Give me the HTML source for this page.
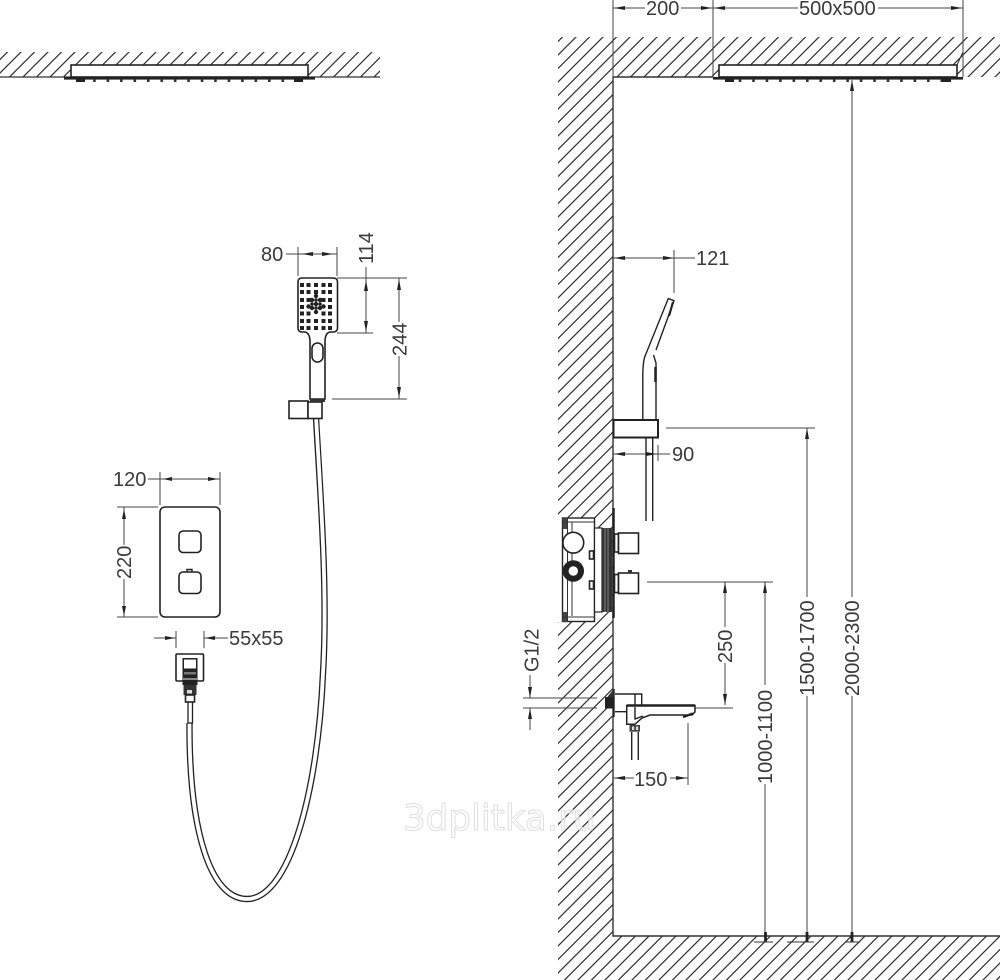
<!DOCTYPE html>
<html><head><meta charset="utf-8"><title>Shower system dimensions</title>
<style>
html,body{margin:0;padding:0;background:#fff}
svg{display:block}
text{font-family:"Liberation Sans",sans-serif;font-size:20px;fill:#3a3a3a}
.d{stroke:#444;stroke-width:1;fill:none}
.k{stroke:#222;stroke-width:1.6;fill:#fff}
.n{stroke:#222;stroke-width:1.4;fill:none}
</style></head><body>
<svg width="1000" height="980" viewBox="0 0 1000 980" xmlns="http://www.w3.org/2000/svg">
<defs>
<pattern id="h" patternUnits="userSpaceOnUse" width="13.5" height="13.5" patternTransform="translate(5.5,0)">
<path d="M-1 14.5L14.5 -1M-1 1L1 -1M12.5 14.5L14.5 12.5" stroke="#333" stroke-width="1.25" fill="none"/>
</pattern>
<pattern id="b" patternUnits="userSpaceOnUse" width="13.45" height="6" x="-3"><rect x="2" y="0" width="2.6" height="4" fill="#333"/></pattern>
</defs>

<!-- left ceiling -->
<rect x="0" y="52" width="380" height="25" fill="url(#h)"/>
<path d="M0 77H380" stroke="#333" stroke-width="1.2"/>
<rect x="71" y="65" width="237" height="12" class="k"/>
<rect x="64" y="77" width="251" height="2.6" fill="#222"/>
<rect x="77" y="79" width="226" height="4" fill="url(#b)"/>
<rect x="76" y="79" width="9" height="3" fill="#222"/><rect x="294" y="79" width="9" height="3" fill="#222"/>

<!-- right wall/ceiling/floor hatch -->
<rect x="558" y="37" width="442" height="40" fill="url(#h)"/>
<rect x="558" y="77" width="55" height="903" fill="url(#h)"/>
<rect x="613" y="936" width="387" height="44" fill="url(#h)"/>
<rect x="546" y="518" width="48" height="104" fill="#fff"/>
<rect x="594" y="528" width="18" height="84" fill="#fff"/>
<path d="M613 77V936H1000M613 77H713" stroke="#333" stroke-width="1.4" fill="none"/>
<rect x="719" y="65" width="238" height="12" class="k"/>
<path d="M957 65L963 52" stroke="#333"/>
<rect x="713" y="77" width="250" height="2.6" fill="#222"/>
<rect x="726" y="79" width="226" height="4" fill="url(#b)"/>
<rect x="725" y="79" width="9" height="3" fill="#222"/><rect x="942" y="79" width="9" height="3" fill="#222"/>

<!-- hand shower front -->
<path d="M302 278H333Q337.500 278 337.500 282V328Q337.500 332 333 332H330Q325 333 325 342V399H310V342Q310 333 305 332H302Q298 332 298 328V282Q298 278 302 278Z" class="k"/>
<rect x="312" y="343" width="11" height="19" rx="5.5" class="k"/>
<g fill="#222">
<rect x="300" y="283" width="4" height="4"/><rect x="306.500" y="283" width="4" height="4"/><rect x="314" y="283" width="4" height="4"/><rect x="321.500" y="283" width="4" height="4"/><rect x="328" y="283" width="4" height="4"/>
<rect x="300" y="290" width="4" height="4"/><rect x="306.500" y="290" width="4" height="4"/><rect x="314" y="290" width="4" height="4"/><rect x="321.500" y="290" width="4" height="4"/><rect x="328" y="290" width="4" height="4"/>
<rect x="300" y="298" width="4" height="4"/><rect x="306.500" y="298" width="4" height="4"/><rect x="321.500" y="298" width="4" height="4"/><rect x="328" y="298" width="4" height="4"/>
<rect x="300" y="305" width="4" height="4"/><rect x="328" y="305" width="4" height="4"/>
<rect x="300" y="311.500" width="4" height="4"/><rect x="306.500" y="311.500" width="4" height="4"/><rect x="321.500" y="311.500" width="4" height="4"/><rect x="328" y="311.500" width="4" height="4"/>
<rect x="300" y="319" width="4" height="4"/><rect x="306.500" y="319" width="4" height="4"/><rect x="314" y="319" width="4" height="4"/><rect x="321.500" y="319" width="4" height="4"/><rect x="328" y="319" width="4" height="4"/>
<rect x="300" y="326" width="4" height="4"/><rect x="306.500" y="326" width="4" height="4"/><rect x="314" y="326" width="4" height="4"/><rect x="321.500" y="326" width="4" height="4"/><rect x="328" y="326" width="4" height="4"/>
<circle cx="316" cy="296" r="2.200"/><circle cx="312" cy="300" r="2.200"/><circle cx="320" cy="300" r="2.200"/><circle cx="316" cy="304" r="2.200"/><circle cx="308.500" cy="306.500" r="2.200"/><circle cx="323.500" cy="306.500" r="2.200"/><circle cx="312" cy="308" r="2.200"/><circle cx="320" cy="308" r="2.200"/><circle cx="316" cy="312" r="2.200"/><circle cx="316" cy="300" r="1.800"/><circle cx="312" cy="304" r="1.800"/><circle cx="320" cy="304" r="1.800"/><circle cx="316" cy="308" r="1.800"/>
</g>
<!-- hose front -->
<path d="M316 418C320 490 328 590 323 673C318 790 290 899 247 899C210 899 189 830 189.500 723" fill="none" stroke="#222" stroke-width="6.400"/>
<path d="M316 416C320 490 328 590 323 673C318 790 290 899 247 899C210 899 189 830 189.500 723" fill="none" stroke="#fff" stroke-width="3.800"/>
<rect x="188" y="697" width="4.500" height="26" fill="#fff" stroke="#222" stroke-width="1.300"/>
<rect x="289" y="401" width="19" height="17.500" class="k"/>
<rect x="308" y="402" width="14" height="16.500" class="k"/>
<rect x="310" y="399" width="15" height="3" fill="#333"/>

<!-- thermostat front -->
<rect x="160" y="507" width="60" height="110" rx="5" class="k"/>
<rect x="179" y="531" width="22" height="21.500" rx="4" class="k"/>
<rect x="179" y="572" width="22" height="21.500" rx="4" class="k"/>
<path d="M187 572V569.500H192V572" class="n"/>

<!-- outlet front -->
<rect x="176" y="654" width="27.500" height="27" rx="1" class="k"/>
<rect x="182.500" y="658" width="15" height="27" fill="#222"/>
<rect x="184" y="659.500" width="12" height="9" fill="#fff"/>
<rect x="184" y="672" width="12" height="2.500" fill="#777"/>
<rect x="183" y="678" width="14" height="2" fill="#888"/>
<rect x="183.500" y="685" width="13" height="10" fill="#333"/>
<rect x="187" y="690" width="5" height="3.500" fill="#ddd"/>
<rect x="185.500" y="695" width="9" height="7" class="k"/>

<!-- left dimensions -->
<path class="d" d="M298 247V276M337 247V276M286 254H337"/>
<path d="M302 254L313 252V256ZM333 254L322 252V256Z" fill="#222"/>
<text x="261" y="261">80</text>
<path class="d" d="M337 278H375M337 333H373M366 267V333"/>
<path d="M366 280L364 291H368ZM366 332L364 321H368Z" fill="#222"/>
<text transform="translate(373,264) rotate(-90)">114</text>
<path class="d" d="M332 399H407M337 278H407M399 278V322M399 356V399"/>
<path d="M399 279L397 290H401ZM399 398L397 387H401Z" fill="#222"/>
<text transform="translate(406.500,356) rotate(-90)">244</text>
<path class="d" d="M160 472V505M220 472V505M148 479H220"/>
<path d="M163 479L172 477V481ZM218 479L208 477V481Z" fill="#222"/>
<text x="113" y="486">120</text>
<path class="d" d="M117 507H158M117 617H158M124 507V545M124 579V617"/>
<path d="M124 509L122 519H126ZM124 616L122 606H126Z" fill="#222"/>
<text transform="translate(131,579) rotate(-90)">220</text>
<path class="d" d="M176 631V648M204 631V648M154 638H176M204 638H228"/>
<path d="M175 638L165 636V640ZM205 638L215 636V640Z" fill="#222"/>
<text x="229" y="645">55x55</text>

<!-- right top dimensions -->
<path class="d" d="M613 0V77M713 0V77M963 0V77M613 8H645M681 8H713M713 8H798M878 8H963"/>
<path d="M614 8L625 6V10ZM712 8L701 6V10ZM714 8L725 6V10ZM962 8L951 6V10Z" fill="#222"/>
<text x="646" y="15">200</text>
<text x="799" y="15">500x500</text>

<!-- vertical dimensions -->
<path class="d" d="M852 80V597M852 696V936M807 428V597M807 696V936M765 582V685M765 784V936"/>
<path d="M852 80L850 91H854ZM807 428L805 439H809ZM765 582L763 593H767Z" fill="#222"/>
<path d="M852 932V942M807 932V942M765.500 932V942" stroke="#222" stroke-width="2.800"/>
<path d="M846 942H860M787 942H814M754 942H773" stroke="#333"/>
<path d="M666 428H815M647 582H773M695 708H733" class="d"/>
<text transform="translate(859,696) rotate(-90)">2000-2300</text>
<text transform="translate(814,696) rotate(-90)">1500-1700</text>
<text transform="translate(772,784) rotate(-90)">1000-1100</text>
<path class="d" d="M725 582V627M725 663V705"/>
<path d="M725 582L723 593H727ZM725 705L723 694H727Z" fill="#222"/>
<text transform="translate(732,663) rotate(-90)">250</text>

<!-- shower side -->
<path class="d" d="M674 250V293M613 258H695"/>
<path d="M614 258L625 256V260ZM674 258L663 256V260Z" fill="#222"/>
<text x="696" y="265">121</text>
<path d="M642.800 419V375Q643 360 645.500 355L668.300 298.500L674 300.700L656 350M653.500 355L656 363V419" class="n"/>
<path d="M669 316L673 302" stroke="#222" stroke-width="2.200"/>
<path d="M655.500 367V382" stroke="#222" stroke-width="2.500"/>
<rect x="613.500" y="420" width="44.500" height="17.500" fill="#fff" stroke="#222" stroke-width="2"/>
<path d="M646 437V521M652.700 437V521" class="n"/>
<path class="d" d="M658 445V461M613 454H670"/>
<path d="M614 454L625 452V456ZM657 454L646 452V456Z" fill="#222"/>
<text x="672" y="461">90</text>

<!-- valve side -->
<rect x="562.500" y="518" width="32" height="103.500" fill="#fff" stroke="#222" stroke-width="1.400"/>
<rect x="562.500" y="518" width="5" height="11" fill="#444"/>
<rect x="562.500" y="612" width="5" height="10" fill="#444"/>
<path d="M567.500 518V622M572 522V616M562.500 522H594M562.500 617H594" stroke="#333" fill="none"/>
<circle cx="573.300" cy="542.700" r="10.400" class="k"/>
<circle cx="573.300" cy="571" r="7.700" fill="#fff" stroke="#222" stroke-width="6"/>
<rect x="589.500" y="551" width="4" height="8" class="k"/>
<rect x="589.500" y="581" width="4" height="8" class="k"/>
<rect x="594.500" y="528" width="7.500" height="84" fill="#fff" stroke="#222" stroke-width="1.200"/>
<rect x="602" y="528" width="10" height="84" fill="#333"/>
<path d="M605 528V612M608 528V612" stroke="#999" stroke-width=".8"/>
<path d="M613.500 508V618" stroke="#222" stroke-width="2.500"/>
<rect x="614.500" y="534" width="4" height="18" class="k"/>
<rect x="618.500" y="533" width="20" height="20.500" class="k"/>
<rect x="614.500" y="574.500" width="4" height="18" class="k"/>
<rect x="618.500" y="573" width="20" height="20.500" class="k"/>
<rect x="628" y="570" width="4" height="3" fill="#333"/>

<!-- spout side -->
<path d="M613.700 689V717" stroke="#222" stroke-width="2"/>
<path d="M613.700 689L605 700V708H613.700Z" fill="#333"/>
<rect x="605" y="697" width="9" height="11.500" fill="#222"/>
<path class="d" d="M523 698H597M523 708H597M530 675V698M530 708V730"/>
<path d="M530 698L528 687H532ZM530 708L528 719H532Z" fill="#222"/>
<text transform="translate(538.500,672) rotate(-90)">G1/2</text>
<path d="M615 694H641.700V705M635 694V705M615 711.700H626.700" class="n"/>
<path d="M626.700 705.500H695V712L692 715H650L642 718L635 724.300H626.700Z" fill="#fff" stroke="#222" stroke-width="1.500"/>
<path d="M627 705.500H695" stroke="#222" stroke-width="2.400"/>
<path d="M635 707V719L643 716" class="n"/>
<path d="M683 717L693 713.500" stroke="#222" stroke-width="2.400"/>
<rect x="629.500" y="725" width="10.500" height="6.700" fill="#444"/>
<rect x="632" y="726.500" width="2.200" height="3.500" fill="#ddd"/><rect x="636" y="726.500" width="2.200" height="3.500" fill="#ddd"/>
<path d="M631.700 732V760M638.300 732V760" class="n"/>
<path class="d" d="M688 723V785M613 778H634M670 778H688"/>
<path d="M614 778L625 776V780ZM687 778L676 776V780Z" fill="#222"/>
<text x="634" y="786">150</text>

<!-- watermark -->
<text x="403" y="830" style="font-family:'DejaVu Sans',sans-serif;font-size:35.700px;fill:rgba(255,255,255,.65);stroke:#dedede;stroke-width:1">3dplitka.ru</text>
</svg>
</body></html>
